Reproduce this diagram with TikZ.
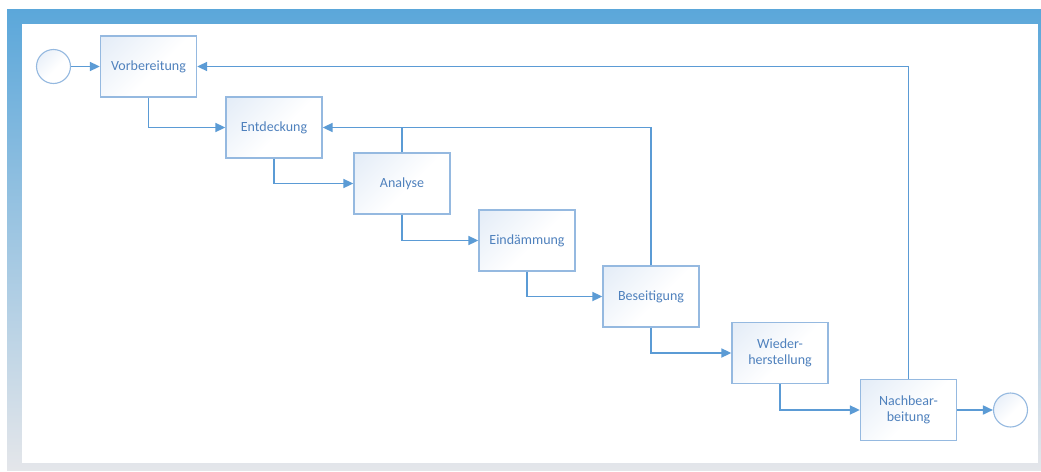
\documentclass[tikz,border=0pt]{standalone}
\usepackage{fontspec}
\setmainfont{Carlito}
\usetikzlibrary{arrows.meta,shadings}
\definecolor{frameblue}{HTML}{5BA7DA}
\definecolor{framegray}{HTML}{E4E6EA}
\definecolor{linec}{HTML}{5B9BD5}
\definecolor{boxline}{HTML}{95B9E0}
\definecolor{boxfill}{HTML}{D9E5F4}
\definecolor{textc}{HTML}{4F81BD}
\pgfdeclareverticalshading{boxshade}{100bp}{color(0bp)=(white); color(45bp)=(white); color(100bp)=(boxfill)}
\begin{document}
\begin{tikzpicture}[x=1pt,y=-1pt,
 stepbox/.style={draw=boxline, line width=1.3pt, shade, shading=boxshade, shading angle=45,
   minimum width=96pt, minimum height=61pt, text=textc, font=\fontsize{14}{16.5}\selectfont, align=center, inner sep=0pt},
 ev/.style={circle, draw=boxline, line width=1.1pt, minimum size=34pt, inner sep=0pt, shade, shading=boxshade, shading angle=45},
 conn/.style={draw=linec, line width=1.7pt, -{Triangle[length=10pt,width=9pt]}},
 plainline/.style={draw=linec, line width=1.7pt}]
\useasboundingbox (0,0) rectangle (1041,471);
\shade[top color=frameblue, bottom color=framegray] (7,9) rectangle (1041,470);
\fill[white] (22,24) rectangle (1038,463);

\node[ev] (start) at (53.5,66.5) {};
\node[stepbox] (vorb) at (148.5,66.5) {Vorbereitung};
\node[stepbox] (entd) at (274,127.5) {Entdeckung};
\node[stepbox] (anal) at (402,183.5) {Analyse};
\node[stepbox] (eind) at (527,240.5) {Eindämmung};
\node[stepbox] (bes) at (651,296.5) {Beseitigung};
\node[stepbox] (wied) at (780,353) {Wieder-\\herstellung};
\node[stepbox] (nach) at (908.5,410) {Nachbear-\\beitung};
\node[ev] (end) at (1010.5,410) {};

\draw[conn] (start) -- (vorb);
\draw[conn] (vorb.south) |- (entd.west);
\draw[conn] (entd.south) |- (anal.west);
\draw[conn] (anal.south) |- (eind.west);
\draw[conn] (eind.south) |- (bes.west);
\draw[conn] (bes.south) |- (wied.west);
\draw[conn] (wied.south) |- (nach.west);
\draw[conn] (nach.east) -- (end);
\draw[conn] (nach.north) |- (vorb.east);
\draw[conn] (bes.north) |- (entd.east);
\draw[plainline] (anal.north) -- (anal.north |- entd.east);
\end{tikzpicture}
\end{document}
